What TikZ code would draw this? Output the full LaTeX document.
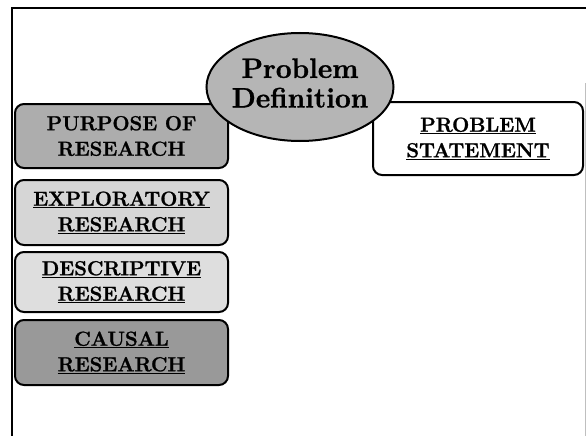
\documentclass[tikz,border=0pt]{standalone}
\usepackage{fontspec}
\setmainfont{Latin Modern Roman}[BoldFeatures={FakeBold=1.2}]
\usetikzlibrary{shapes.geometric}

\definecolor{purposegray}{gray}{0.68}
\definecolor{explgray}{gray}{0.84}
\definecolor{descgray}{gray}{0.87}
\definecolor{causalgray}{gray}{0.60}
\definecolor{ovalgray}{gray}{0.71}
\definecolor{edgegray}{gray}{0.75}

\tikzset{
  frameline/.style={line width=2pt, black},
  stagebox/.style={draw=black, line width=2pt, rounded corners=9pt,
    align=center, inner sep=0pt, minimum width=213pt,
    font=\fontsize{20.3}{25.5}\selectfont\bfseries},
  ovalnode/.style={draw=black, line width=2pt, ellipse, inner sep=0pt,
    minimum width=187pt, minimum height=108pt, fill=ovalgray},
  ovaltext/.style={align=center, inner sep=0pt,
    font=\fontsize{28}{29.5}\selectfont\bfseries}
}

\begin{document}
\begin{tikzpicture}[x=1pt, y=-1pt]
  \useasboundingbox (0,0) rectangle (586,436);
  \fill[white] (0,0) rectangle (586,436);

  % page frame
  \coordinate (ftl) at (12,8);
  \coordinate (ftr) at (586,8);
  \coordinate (fbl) at (12,436);
  \coordinate (rtop) at (585,83);
  \coordinate (rbot) at (585,436);
  \draw[frameline] (ftr) -- (ftl) -- (fbl);
  \draw[edgegray, line width=1pt] (rtop) -- (rbot);

  % left column of research types
  \node[stagebox, fill=purposegray, minimum height=64pt] (purpose)
    at (121.5,136) {PURPOSE OF\\RESEARCH};
  \node[stagebox, fill=explgray, minimum height=65pt] (explor)
    at (121.5,212.5) {\underline{EXPLORATORY}\\\underline{RESEARCH}};
  \node[stagebox, fill=descgray, minimum height=60pt] (descr)
    at (121.5,282) {\underline{DESCRIPTIVE}\\\underline{RESEARCH}};
  \node[stagebox, fill=causalgray, minimum height=65pt] (causal)
    at (121.5,352.5) {\underline{CAUSAL}\\\underline{RESEARCH}};

  % problem statement
  \node[stagebox, fill=white, minimum width=210pt, minimum height=73pt]
    (statement) at (478,138.5) {\underline{PROBLEM}\\\underline{STATEMENT}};

  % central oval, drawn over the box corners
  \node[ovalnode] (problem) at (300,87) {};
  \node[ovaltext] (problemlabel) at (300,83) {Problem\\Definition};
\end{tikzpicture}
\end{document}
